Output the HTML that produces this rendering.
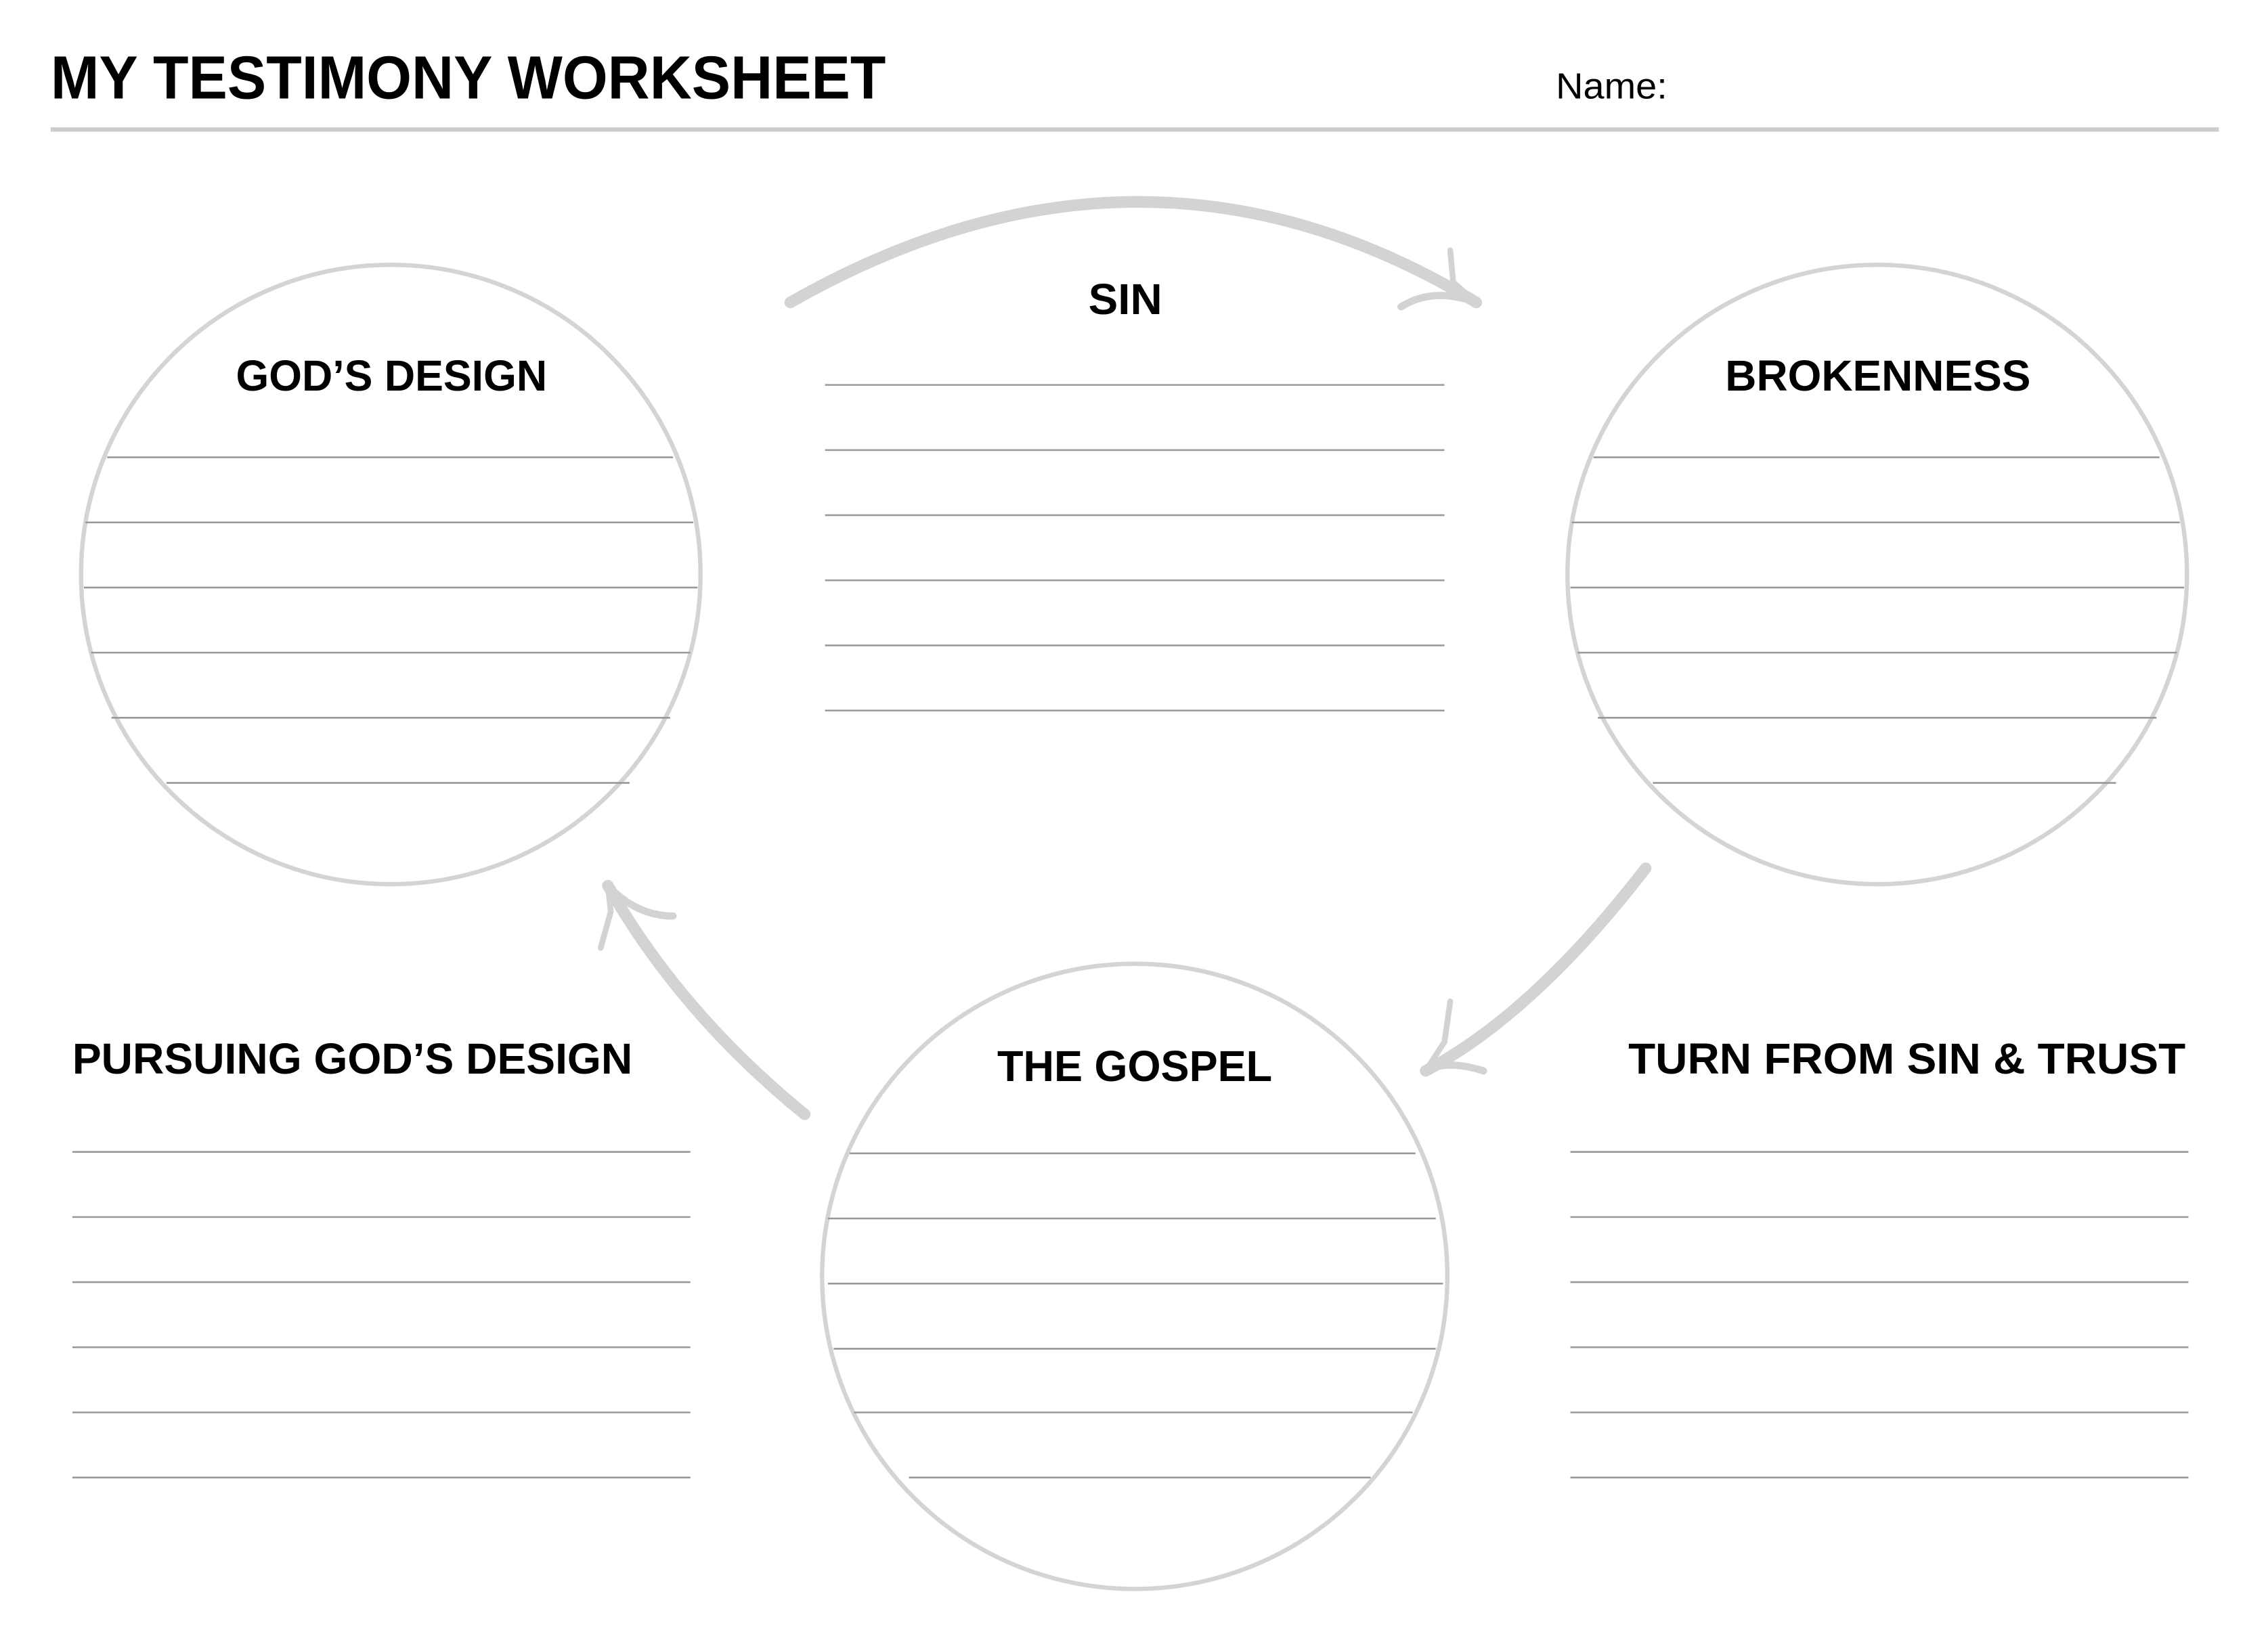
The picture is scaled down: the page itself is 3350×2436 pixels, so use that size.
<!DOCTYPE html>
<html><head><meta charset="utf-8"><style>
html,body{margin:0;padding:0;background:#fff;}
svg{display:block;}
text{font-family:"Liberation Sans",sans-serif;}
</style></head><body>
<svg width="3350" height="2436" viewBox="0 0 1567 1139.5" preserveAspectRatio="none" xmlns="http://www.w3.org/2000/svg">
<rect width="1567" height="1139.5" fill="#fff"/>
<text x="35" y="68" font-size="42" font-weight="bold" textLength="577" lengthAdjust="spacingAndGlyphs" fill="#000">MY TESTIMONY WORKSHEET</text>
<text x="1075" y="68" font-size="25" fill="#000" textLength="77" lengthAdjust="spacingAndGlyphs">Name:</text>
<line x1="35" y1="89.5" x2="1533" y2="89.5" stroke="#cccccc" stroke-width="3"/>

<g fill="none" stroke="#d4d4d4" stroke-width="3">
<circle cx="270" cy="397" r="214"/>
<circle cx="1297" cy="397" r="214"/>
<circle cx="784" cy="882" r="216"/>
</g>

<g stroke="#999" stroke-width="1.2">
<line x1="74" y1="316" x2="465" y2="316"/>
<line x1="59" y1="361" x2="479" y2="361"/>
<line x1="58" y1="406" x2="482" y2="406"/>
<line x1="63" y1="451" x2="477" y2="451"/>
<line x1="77" y1="496" x2="463" y2="496"/>
<line x1="115" y1="541" x2="435" y2="541"/>

<line x1="1101" y1="316" x2="1492" y2="316"/>
<line x1="1086" y1="361" x2="1506" y2="361"/>
<line x1="1085" y1="406" x2="1509" y2="406"/>
<line x1="1090" y1="451" x2="1504" y2="451"/>
<line x1="1104" y1="496" x2="1490" y2="496"/>
<line x1="1142" y1="541" x2="1462" y2="541"/>

<line x1="587" y1="797" x2="978" y2="797"/>
<line x1="572" y1="842" x2="992" y2="842"/>
<line x1="572" y1="887" x2="997" y2="887"/>
<line x1="576" y1="932" x2="992" y2="932"/>
<line x1="590" y1="976" x2="976" y2="976"/>
<line x1="628" y1="1021" x2="947" y2="1021"/>

<line x1="570" y1="266" x2="998" y2="266"/>
<line x1="570" y1="311" x2="998" y2="311"/>
<line x1="570" y1="356" x2="998" y2="356"/>
<line x1="570" y1="401" x2="998" y2="401"/>
<line x1="570" y1="446" x2="998" y2="446"/>
<line x1="570" y1="491" x2="998" y2="491"/>

<line x1="50" y1="796" x2="477" y2="796"/>
<line x1="50" y1="841" x2="477" y2="841"/>
<line x1="50" y1="886" x2="477" y2="886"/>
<line x1="50" y1="931" x2="477" y2="931"/>
<line x1="50" y1="976" x2="477" y2="976"/>
<line x1="50" y1="1021" x2="477" y2="1021"/>

<line x1="1085" y1="796" x2="1512" y2="796"/>
<line x1="1085" y1="841" x2="1512" y2="841"/>
<line x1="1085" y1="886" x2="1512" y2="886"/>
<line x1="1085" y1="931" x2="1512" y2="931"/>
<line x1="1085" y1="976" x2="1512" y2="976"/>
<line x1="1085" y1="1021" x2="1512" y2="1021"/>
</g>

<g fill="none" stroke="#d3d3d3" stroke-linecap="round" stroke-linejoin="round">
<path d="M546,209 Q790,70 1020,209" stroke-width="8"/>
<path d="M1002,173 L1004,195 L1020,209" stroke-width="4"/>
<path d="M968,212 Q990,198 1020,209" stroke-width="5"/>

<path d="M1137,600 Q1060,700 985,740" stroke-width="8"/>
<path d="M1002,692 L998,720 L985,740" stroke-width="4"/>
<path d="M1025,740 Q1000,732 985,740" stroke-width="5"/>

<path d="M556,770 Q470,700 420,612" stroke-width="8"/>
<path d="M415,655 L422,630 L420,612" stroke-width="4"/>
<path d="M465,633 Q440,633 420,612" stroke-width="5"/>
</g>

<g font-weight="bold" fill="#000" font-size="30">
<text x="163" y="270" textLength="215" lengthAdjust="spacingAndGlyphs">GOD’S DESIGN</text>
<text x="752" y="217" textLength="51" lengthAdjust="spacingAndGlyphs">SIN</text>
<text x="1192" y="270" textLength="211" lengthAdjust="spacingAndGlyphs">BROKENNESS</text>
<text x="689" y="747" textLength="190" lengthAdjust="spacingAndGlyphs">THE GOSPEL</text>
<text x="50" y="742" textLength="387" lengthAdjust="spacingAndGlyphs">PURSUING GOD’S DESIGN</text>
<text x="1125" y="742" textLength="385" lengthAdjust="spacingAndGlyphs">TURN FROM SIN &amp; TRUST</text>
</g>
</svg>
</body></html>
